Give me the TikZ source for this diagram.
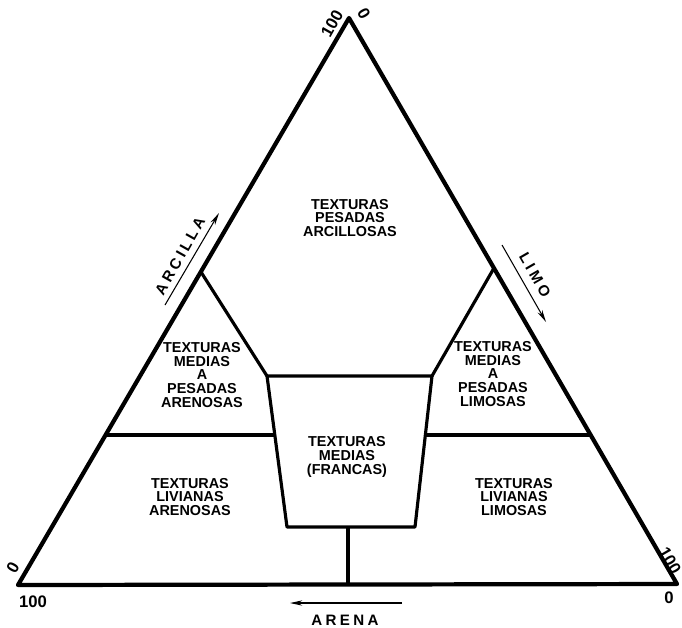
\documentclass[tikz,border=0pt]{standalone}
\usepackage{fontspec}
\setmainfont{Liberation Sans}
\usetikzlibrary{arrows.meta}
\begin{document}
\begin{tikzpicture}[x=0.02cm, y=-0.02cm,
        zone/.style={font=\bfseries\fontsize{8.2}{7.9}\selectfont, align=center, inner sep=0pt},
        num/.style={font=\bfseries\fontsize{9.5}{9.5}\selectfont, inner sep=0pt},
        axislabel/.style={font=\bfseries\fontsize{8.6}{8.6}\selectfont\addfontfeatures{LetterSpace=22}, inner sep=0pt},
        border/.style={line width=2.4pt, line join=round},
        divide/.style={line width=1.8pt, line join=round},
        axis/.style={line width=0.6pt, -{Stealth[length=7pt,width=3pt]}}]

    \useasboundingbox (0,0) rectangle (682,627);

    % Corners of the triangle
    \coordinate (apex) at (349,18);
    \coordinate (left) at (18,585);
    \coordinate (right) at (677,584);

    % Junctions of the inner lines
    \coordinate (lj) at (201,272);
    \coordinate (rj) at (494,268);
    \coordinate (tl) at (267,376);
    \coordinate (tr) at (432,376);
    \coordinate (br) at (415,527);
    \coordinate (bl) at (287,527);
    \coordinate (lh) at (106,435);
    \coordinate (lhe) at (275,435);
    \coordinate (rh) at (590,435);
    \coordinate (rhe) at (425,435);
    \coordinate (vt) at (348,527);
    \coordinate (vb) at (348,585);

    % Outer triangle
    \draw[border] (apex) -- (left) -- (right) -- cycle;

    % Inner boundaries
    \draw[divide] (lj) -- (tl) -- (tr) -- (rj);
    \draw[divide] (tl) -- (bl) -- (br) -- (tr);
    \draw[divide] (lh) -- (lhe);
    \draw[divide] (rhe) -- (rh);
    \draw[divide] (vt) -- (vb);

    % Zone labels
    \node[zone] (pesadas) at (350,218) {TEXTURAS\\PESADAS\\ARCILLOSAS};
    \node[zone] (mparenosas) at (202,375) {TEXTURAS\\MEDIAS\\A\\PESADAS\\ARENOSAS};
    \node[zone] (mplimosas) at (493,374) {TEXTURAS\\MEDIAS\\A\\PESADAS\\LIMOSAS};
    \node[zone] (francas) at (347,457) {TEXTURAS\\MEDIAS\\(FRANCAS)};
    \node[zone] (larenosas) at (190,497) {TEXTURAS\\LIVIANAS\\ARENOSAS};
    \node[zone] (llimosas) at (514,497) {TEXTURAS\\LIVIANAS\\LIMOSAS};

    % Axis arrows
    \coordinate (arcA) at (165,305);
    \coordinate (arcB) at (219,213);
    \draw[axis] (arcA) -- (arcB);
    \node[axislabel, rotate=60.7] (arcilla) at (180,256) {ARCILLA};

    \coordinate (limA) at (502,245);
    \coordinate (limB) at (546,322);
    \draw[axis] (limA) -- (limB);
    \node[axislabel, rotate=-60] (limo) at (535,275) {LIMO};

    \coordinate (areA) at (402,603);
    \coordinate (areB) at (290,603);
    \draw[axis] (areA) -- (areB);
    \node[axislabel] (arena) at (345,620) {ARENA};

    % Scale ends
    \node[num, rotate=60.7] (top100) at (332,24) {100};
    \node[num, rotate=-60] (top0) at (364,14) {0};
    \node[num, rotate=60.7] (left0) at (13,568) {0};
    \node[num] (left100) at (33,602) {100};
    \node[num, rotate=-60] (right100) at (670,561) {100};
    \node[num] (right0) at (669,598) {0};
\end{tikzpicture}
\end{document}
